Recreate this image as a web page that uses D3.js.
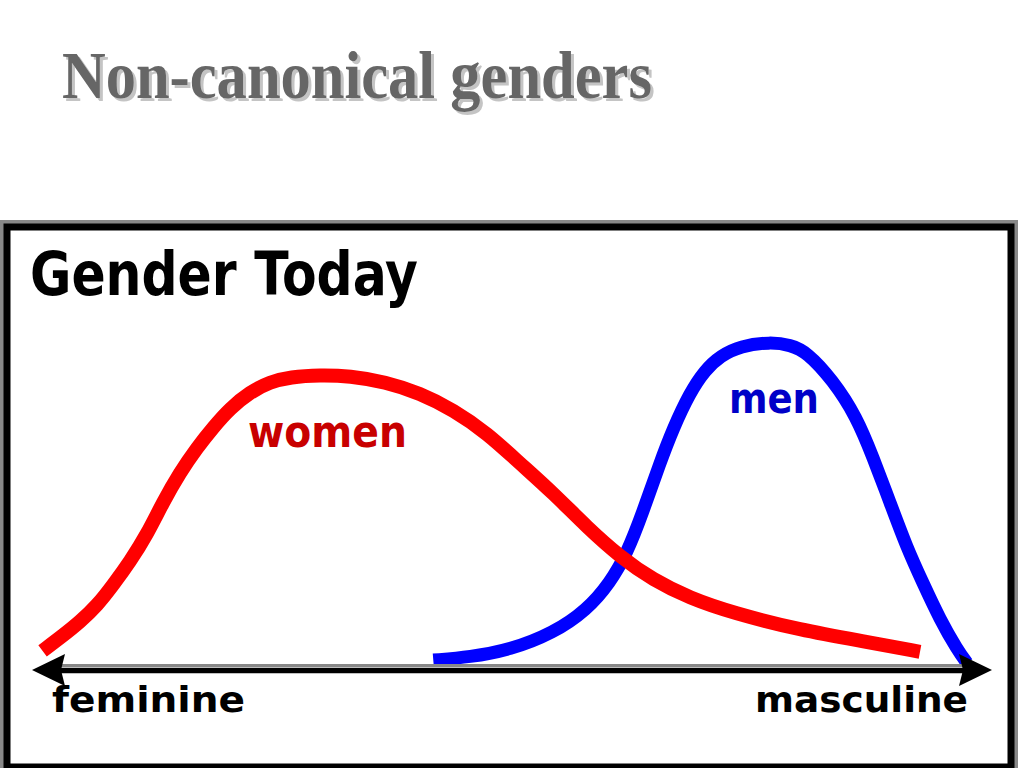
<!DOCTYPE html>
<html>
<head>
<meta charset="utf-8">
<script src="https://cdn.jsdelivr.net/npm/d3@7"></script>
<style>
  html, body { margin: 0; padding: 0; background: #fff; }
  svg { display: block; }
</style>
</head>
<body>
<svg id="chart" width="1024" height="768"></svg>
<script>
// ---- data ----
const slideTitle = "Non-canonical genders";
const chartTitle = "Gender Today";
const axisLabels = ["feminine", "masculine"];
const seriesNames = ["women", "men"];
const seriesColors = ["#ff0000", "#0000ff"];
const labelColors = ["#c80000", "#0000c8"];

// x: 0 = feminine, 100 = masculine ; y: relative frequency (0..100)
const womenX = [1.1, 3.2, 5.0, 6.8, 8.4, 10.2, 12.0, 13.6, 15.4, 17.2, 18.9, 20.6, 22.7, 24.8, 26.9, 30.0, 33.1, 36.8, 40.4, 43.9, 47.4, 50.8, 54.3, 57.8, 61.3, 64.7, 68.5, 73.0, 80.0, 87.0, 92.5];
const womenY = [5.8, 10.4, 14.6, 19.6, 25.6, 32.8, 41.2, 50.6, 59.8, 67.4, 73.6, 79.2, 84.2, 87.3, 88.8, 89.4, 89.1, 87.3, 83.9, 78.8, 71.8, 62.7, 53.6, 43.3, 34.2, 27.3, 21.8, 17.3, 12.1, 8.5, 5.5];
const menX = [41.8, 45.6, 49.8, 54.3, 57.8, 60.2, 62.0, 63.6, 65.4, 66.8, 68.5, 70.1, 71.7, 73.8, 76.9, 79.0, 80.7, 83.4, 85.9, 87.6, 89.4, 91.1, 92.8, 94.6, 96.4, 97.4];
const menY = [3.0, 3.9, 6.1, 11.2, 18.2, 26.4, 35.5, 47.6, 62.7, 73.3, 83.9, 90.9, 95.2, 98.2, 99.4, 98.5, 96.4, 87.9, 76.7, 64.5, 50.6, 37.3, 26.4, 15.2, 6.1, 2.1];
// label anchor positions in data units
const labelX = [22.5, 72.6];
const labelY = [67.6, 78.0];

// ---- drawing ----
const svg = d3.select("#chart");
const x = d3.scaleLinear().domain([0, 100]).range([32, 992]);
const y = d3.scaleLinear().domain([0, 100]).range([670, 340]);

// drop shadow filter for slide title
const defs = svg.append("defs");
const f = defs.append("filter").attr("id", "shadow")
  .attr("x", "-5%").attr("y", "-20%").attr("width", "115%").attr("height", "150%");
f.append("feFlood").attr("flood-color", "#c4c4c4").attr("result", "c");
f.append("feOffset").attr("in", "SourceAlpha").attr("dx", 3).attr("dy", 3).attr("result", "o");
f.append("feComposite").attr("in", "c").attr("in2", "o").attr("operator", "in").attr("result", "s");
const m = f.append("feMerge");
m.append("feMergeNode").attr("in", "s");
m.append("feMergeNode").attr("in", "SourceGraphic");

const titleFont = "'Liberation Serif', 'Times New Roman', serif";
svg.append("text").attr("x", 62).attr("y", 98)
  .attr("font-family", titleFont).attr("font-weight", "bold").attr("font-size", 67)
  .attr("textLength", 590).attr("lengthAdjust", "spacingAndGlyphs")
  .attr("fill", "#666666").attr("filter", "url(#shadow)").text(slideTitle);

// frame
svg.append("rect").attr("x", 4).attr("y", 224).attr("width", 1010).attr("height", 546)
  .attr("fill", "#fff").attr("stroke", "#888").attr("stroke-width", 8);
svg.append("rect").attr("x", 7).attr("y", 227).attr("width", 1004).attr("height", 540)
  .attr("fill", "none").attr("stroke", "#000").attr("stroke-width", 7);

const sansFont = "'DejaVu Sans', Verdana, sans-serif";
// chart title
svg.append("text").attr("x", 30).attr("y", 295)
  .attr("font-family", sansFont).attr("font-weight", "bold").attr("font-size", 60)
  .attr("textLength", 388).attr("lengthAdjust", "spacingAndGlyphs")
  .attr("fill", "#000").text(chartTitle);

// curves (men first, women on top)
const line = d3.line()
  .x(d => x(d[0])).y(d => y(d[1]))
  .curve(d3.curveBasis);
const series = [
  { name: seriesNames[1], pts: d3.zip(menX, menY), color: seriesColors[1], w: 13 },
  { name: seriesNames[0], pts: d3.zip(womenX, womenY), color: seriesColors[0], w: 14 }
];
svg.selectAll("path.curve").data(series).join("path")
  .attr("class", "curve")
  .attr("d", d => line(d.pts))
  .attr("fill", "none")
  .attr("stroke", d => d.color)
  .attr("stroke-width", d => d.w)
  .attr("stroke-linecap", "butt");

// series labels
const labelW = [159, 90];
const labelSize = [44, 42];
seriesNames.forEach((name, i) => {
  svg.append("text").attr("x", x(labelX[i])).attr("y", y(labelY[i]))
    .attr("font-family", sansFont).attr("font-weight", "bold").attr("font-size", labelSize[i])
    .attr("textLength", labelW[i]).attr("lengthAdjust", "spacingAndGlyphs")
    .attr("fill", labelColors[i]).text(name);
});

// axis with arrows
const y0 = y(0);
svg.append("line").attr("x1", x(3)).attr("x2", x(97)).attr("y1", y0 - 4.5).attr("y2", y0 - 4.5)
  .attr("stroke", "#888").attr("stroke-width", 3);
svg.append("line").attr("x1", x(2)).attr("x2", x(98)).attr("y1", y0 + 0.5).attr("y2", y0 + 0.5)
  .attr("stroke", "#000").attr("stroke-width", 5.5);
const arrow = (tip, dir) => {
  const bx = tip + dir * 33;
  return `M${tip},${y0} L${bx},${y0 - 16} L${bx - dir * 4},${y0} L${bx},${y0 + 16} Z`;
};
svg.append("path").attr("d", arrow(x(0), 1)).attr("fill", "#000");
svg.append("path").attr("d", arrow(x(100), -1)).attr("fill", "#000");

// axis labels
const axW = [193, 213];
const axX = [52, 755];
axisLabels.forEach((t, i) => {
  svg.append("text").attr("x", axX[i]).attr("y", 712)
    .attr("font-family", sansFont).attr("font-weight", "bold").attr("font-size", 36)
    .attr("textLength", axW[i]).attr("lengthAdjust", "spacingAndGlyphs")
    .attr("fill", "#000").text(t);
});
</script>
</body>
</html>
